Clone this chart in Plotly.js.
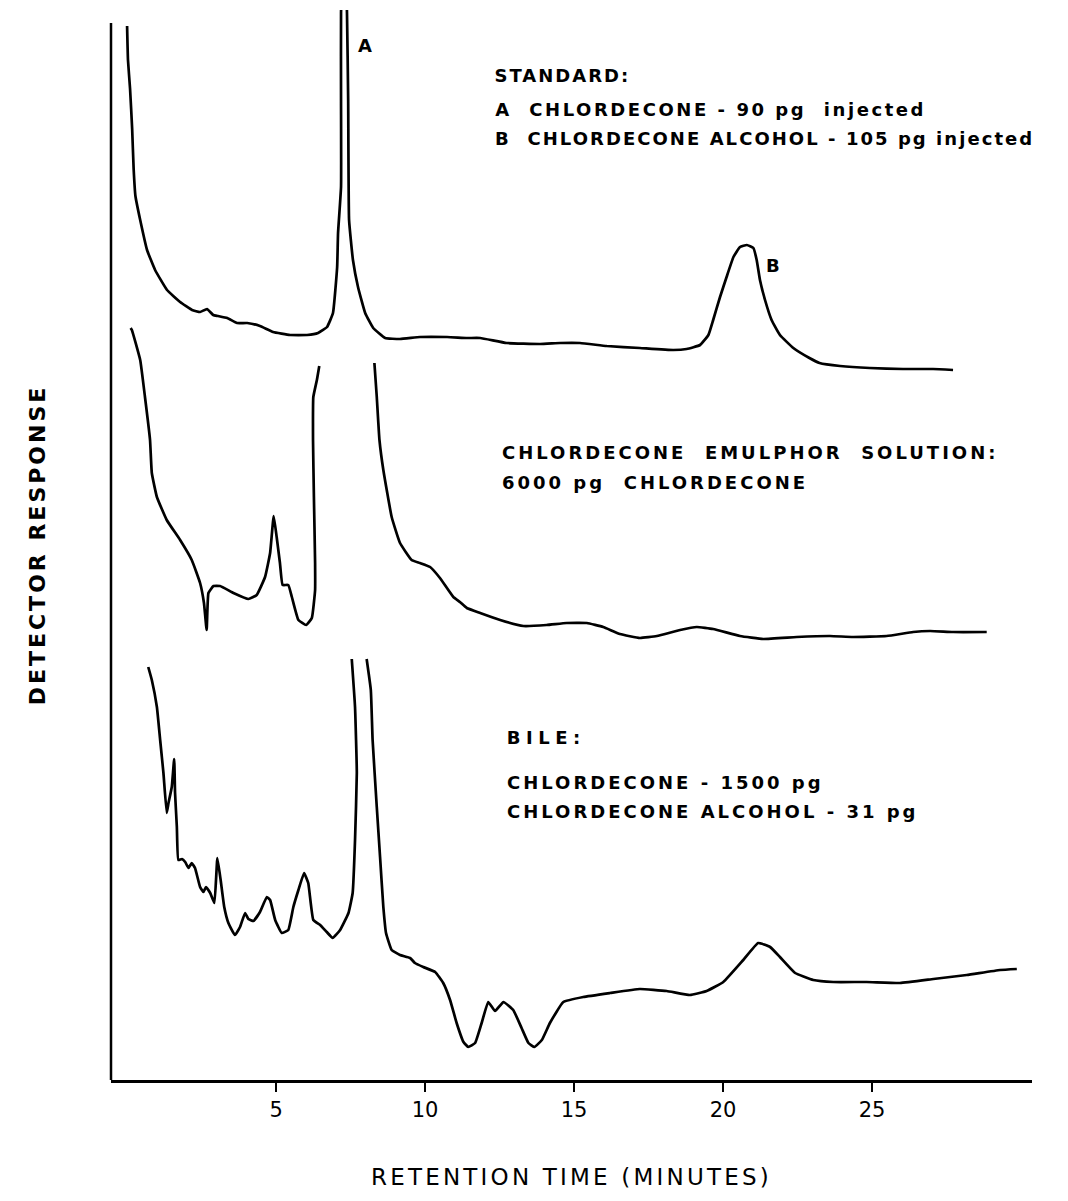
<!DOCTYPE html>
<html>
<head>
<meta charset="utf-8">
<script src="https://cdn.plot.ly/plotly-3.0.1.min.js"></script>
<style>
  html, body { margin: 0; padding: 0; background: #fff; }
  .annotation-text { letter-spacing: 3px; }
  .annotation[data-index="2"] .annotation-text { letter-spacing: 2px; }
  .annotation[data-index="3"] .annotation-text { letter-spacing: 2.55px; }
  .annotation[data-index="4"] .annotation-text { letter-spacing: 2.05px; }
  .annotation[data-index="7"] .annotation-text { letter-spacing: 5.5px; }
  .xtitle { letter-spacing: 3.2px; }
  .ytitle { letter-spacing: 3px; }
</style>
</head>
<body>
<div id="chart" style="width:1068px;height:1201px;"></div>
<script>
// ---- Data (retention time in minutes, detector response in arbitrary units) ----
// STANDARD trace (peak A off-scale, value above the plotted range)
const stdTime = [0.00, 0.03, 0.10, 0.17, 0.22, 0.28, 0.44, 0.67, 0.94, 1.34, 1.78, 2.18, 2.45, 2.68, 2.89, 3.05, 3.36, 3.69, 4.03, 4.46, 4.90, 5.47, 6.04, 6.41, 6.71, 6.91, 7.05, 7.08, 7.18, 7.18, 7.18, 7.28, 7.38, 7.42, 7.45, 7.58, 7.75, 7.99, 8.26, 8.66, 9.16, 9.83, 10.74, 11.41, 11.85, 12.74, 13.86, 14.53, 15.20, 16.10, 17.21, 18.33, 18.78, 19.23, 19.51, 19.67, 19.90, 20.12, 20.35, 20.57, 20.80, 21.02, 21.13, 21.24, 21.41, 21.63, 21.91, 22.36, 22.90, 23.24, 23.93, 24.93, 26.04, 27.05, 27.72];
const stdResponse = [105.3, 101.9, 99.0, 95.0, 91.0, 88.3, 85.9, 82.9, 80.9, 78.9, 77.7, 76.9, 76.7, 77.0, 76.4, 76.3, 76.1, 75.6, 75.6, 75.3, 74.7, 74.4, 74.4, 74.6, 75.2, 76.6, 81.2, 84.6, 89.2, 97.9, 106.6, 115.0, 106.6, 97.9, 85.9, 81.9, 79.2, 76.6, 75.1, 74.1, 74.0, 74.2, 74.2, 74.1, 74.1, 73.6, 73.5, 73.6, 73.6, 73.3, 73.1, 72.9, 73.0, 73.4, 74.4, 75.9, 78.2, 80.2, 82.2, 83.2, 83.4, 83.1, 81.9, 79.9, 77.9, 75.9, 74.4, 73.1, 72.1, 71.6, 71.3, 71.1, 71.0, 71.0, 70.9];

// CHLORDECONE EMULPHOR SOLUTION trace (main peak cut off: gap)
const emulTime = [0.12, 0.16, 0.44, 0.60, 0.77, 0.83, 1.00, 1.33, 1.78, 2.17, 2.45, 2.58, 2.67, 2.73, 2.90, 3.12, 3.57, 4.07, 4.35, 4.63, 4.80, 4.92, 5.02, 5.13, 5.22, 5.41, 5.53, 5.75, 6.01, 6.20, 6.31, 6.31, 6.27, 6.24, 6.25, 6.37, 6.45, 7.40, 8.30, 8.38, 8.47, 8.60, 8.88, 9.16, 9.55, 9.83, 10.17, 10.50, 10.95, 11.17, 11.40, 11.85, 12.52, 13.30, 14.08, 14.75, 15.43, 15.98, 16.54, 17.21, 17.78, 18.56, 19.12, 19.67, 20.57, 21.35, 22.47, 23.59, 24.36, 25.49, 26.38, 26.95, 27.72, 28.85];
const emulResponse = [75.1, 74.9, 71.9, 68.2, 63.9, 60.6, 58.2, 55.9, 53.9, 51.9, 49.6, 47.6, 44.9, 48.6, 49.3, 49.3, 48.6, 48.0, 48.4, 50.2, 52.6, 56.3, 54.2, 51.6, 49.4, 49.4, 48.2, 45.9, 45.4, 46.1, 48.9, 51.6, 58.2, 63.9, 68.2, 69.9, 71.3, null, 71.6, 68.2, 63.9, 60.9, 56.2, 53.6, 51.9, 51.6, 51.2, 50.1, 48.2, 47.7, 47.1, 46.6, 45.9, 45.3, 45.4, 45.6, 45.6, 45.2, 44.5, 44.1, 44.3, 44.9, 45.2, 45.0, 44.3, 44.0, 44.2, 44.3, 44.2, 44.3, 44.7, 44.8, 44.7, 44.7];

// BILE trace (main peak cut off: gap)
const bileTime = [0.71, 0.83, 1.00, 1.11, 1.22, 1.33, 1.39, 1.50, 1.58, 1.61, 1.67, 1.72, 1.84, 1.95, 2.06, 2.17, 2.28, 2.45, 2.56, 2.65, 2.79, 2.93, 3.03, 3.14, 3.26, 3.40, 3.62, 3.79, 3.96, 4.07, 4.24, 4.46, 4.69, 4.80, 4.97, 5.19, 5.41, 5.58, 5.75, 5.94, 6.08, 6.25, 6.48, 6.70, 6.90, 7.15, 7.43, 7.57, 7.65, 7.71, 7.65, 7.54, 7.80, 8.04, 8.18, 8.24, 8.38, 8.49, 8.60, 8.69, 8.88, 9.16, 9.50, 9.66, 9.94, 10.34, 10.61, 10.84, 11.06, 11.29, 11.45, 11.68, 11.90, 12.12, 12.35, 12.63, 12.96, 13.24, 13.47, 13.67, 13.92, 14.19, 14.64, 15.31, 16.21, 17.21, 18.11, 18.89, 19.45, 20.01, 20.68, 21.18, 21.58, 21.91, 22.42, 23.03, 23.70, 24.82, 25.94, 27.06, 28.18, 29.30, 29.86];
const bileResponse = [41.2, 39.9, 37.2, 33.9, 30.6, 26.6, 27.6, 29.2, 32.0, 28.6, 25.2, 21.9, 22.0, 21.7, 21.1, 21.6, 21.1, 19.2, 18.7, 19.2, 18.6, 17.6, 22.1, 19.9, 17.2, 15.6, 14.4, 15.2, 16.6, 16.0, 15.8, 16.7, 18.2, 17.9, 15.9, 14.6, 14.9, 17.2, 18.9, 20.6, 19.6, 15.9, 15.4, 14.7, 14.1, 14.9, 16.6, 18.6, 23.9, 30.6, 37.2, 42.0, null, 42.0, 38.9, 33.9, 27.2, 22.2, 17.2, 14.6, 12.9, 12.4, 12.1, 11.6, 11.2, 10.7, 9.6, 7.9, 5.6, 3.7, 3.2, 3.6, 5.6, 7.7, 6.8, 7.7, 6.9, 5.1, 3.6, 3.2, 3.9, 5.6, 7.7, 8.2, 8.6, 9.0, 8.8, 8.4, 8.8, 9.7, 11.9, 13.6, 13.2, 12.2, 10.6, 9.9, 9.7, 9.7, 9.6, 10.0, 10.4, 10.9, 11.0];

const xTickValues = [5, 10, 15, 20, 25];
const xTickLabels = ['5', '10', '15', '20', '25'];

// ---- Plot ----
const FONT = 'DejaVu Sans, Liberation Sans, sans-serif';
const lineStyle = {color: '#000', width: 2.7, shape: 'spline', smoothing: 0.35};

const traces = [
  {x: stdTime, y: stdResponse, type: 'scatter', mode: 'lines', line: lineStyle, name: 'Standard', connectgaps: false},
  {x: emulTime, y: emulResponse, type: 'scatter', mode: 'lines', line: lineStyle, name: 'Emulphor solution', connectgaps: false},
  {x: bileTime, y: bileResponse, type: 'scatter', mode: 'lines', line: lineStyle, name: 'Bile', connectgaps: false}
];

const yAxisTop = 105.6;
const txt = {family: FONT, size: 18, color: '#000', weight: 'bold'};
function note(text, x, y, anchor) {
  return {text: text, x: x, y: y, xref: 'x', yref: 'y', xanchor: anchor || 'left', yanchor: 'middle',
          showarrow: false, font: txt};
}
const NB = '\u00a0';

const layout = {
  width: 1068, height: 1201,
  margin: {l: 111, r: 36, t: 10, b: 121},
  paper_bgcolor: '#fff', plot_bgcolor: '#fff',
  showlegend: false,
  font: {family: FONT, color: '#000'},
  xaxis: {
    range: [-0.54, 30.37],
    showline: true, linecolor: '#000', linewidth: 2.5,
    ticks: 'outside', ticklen: 9, tickwidth: 2, tickcolor: '#000',
    tickvals: xTickValues, ticktext: xTickLabels,
    tickfont: {family: FONT, size: 21, color: '#000'},
    showgrid: false, zeroline: false, automargin: false,
    title: {text: 'RETENTION TIME (MINUTES)', font: {family: FONT, size: 23, color: '#000'}, standoff: 48}
  },
  yaxis: {
    range: [-0.1, 106.9],
    showline: false, showticklabels: false, ticks: '',
    showgrid: false, zeroline: false, automargin: false,
    title: {text: 'DETECTOR RESPONSE', font: {family: FONT, size: 22, color: '#000', weight: 'bold'}, standoff: 58}
  },
  shapes: [
    {type: 'line', xref: 'paper', yref: 'y', x0: 0, x1: 0, y0: -0.1, y1: yAxisTop,
     line: {color: '#000', width: 2.5}}
  ],
  annotations: [
    note('A', 8.05, 103.4, 'center'),
    note('B', 21.74, 81.4, 'center'),
    note('STANDARD:', 12.11, 100.4),
    note('A' + NB + ' CHLORDECONE - 90 pg' + NB + ' injected', 12.05, 97.0),
    note('B' + NB + ' CHLORDECONE ALCOHOL - 105 pg injected', 11.64, 94.1),
    note('CHLORDECONE' + NB + ' EMULPHOR' + NB + ' SOLUTION:', 12.52, 62.7),
    note('6000 pg' + NB + ' CHLORDECONE', 12.52, 59.7),
    note('BILE:', 12.88, 34.2),
    note('CHLORDECONE - 1500 pg', 12.68, 29.7),
    note('CHLORDECONE ALCOHOL - 31 pg', 12.68, 26.8)
  ]
};

Plotly.newPlot('chart', traces, layout, {displayModeBar: false, staticPlot: true});
</script>
</body>
</html>
